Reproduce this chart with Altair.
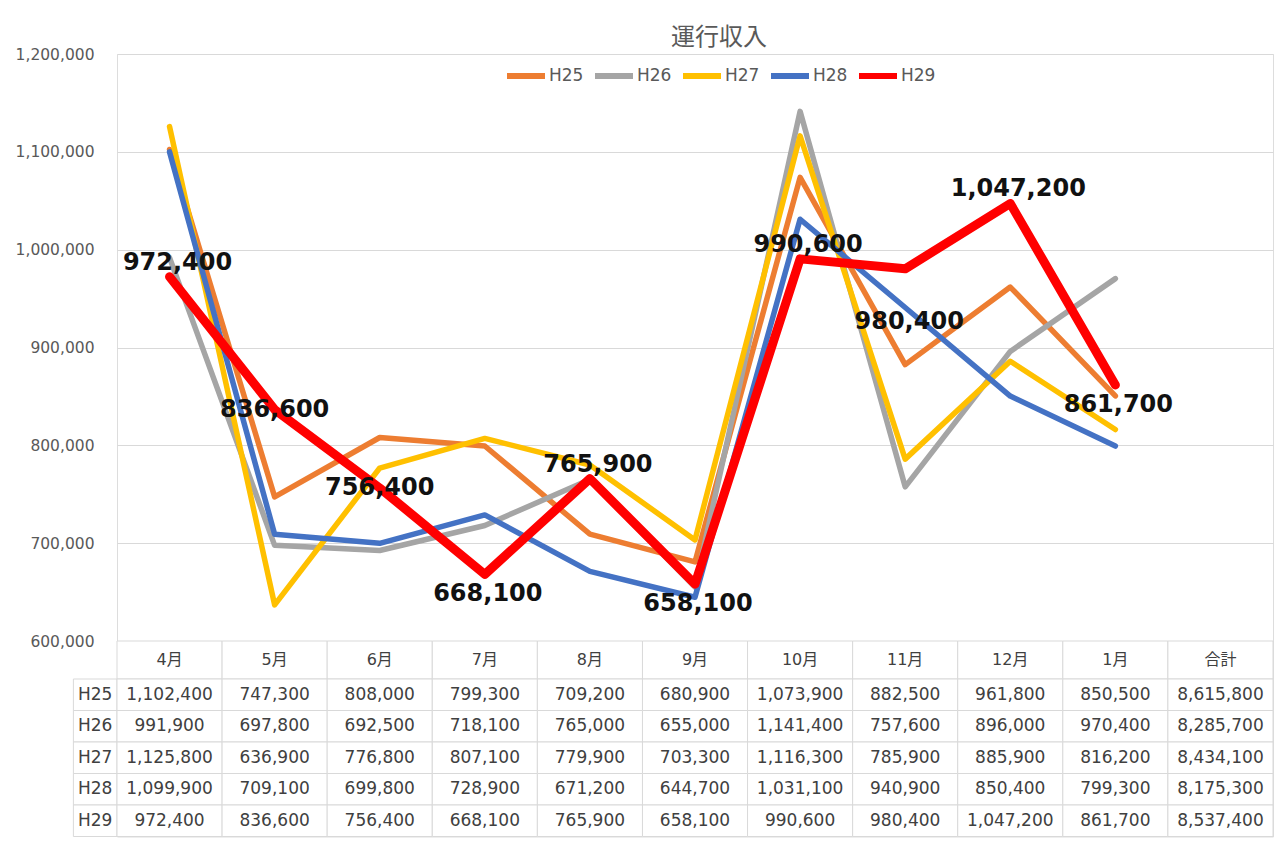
import altair as alt
import pandas as pd

# ---------------- data ----------------
TITLE = "運行収入"
MONTHS = ["4月", "5月", "6月", "7月", "8月", "9月", "10月", "11月", "12月", "1月"]
TOTAL_LABEL = "合計"
SERIES = ["H25", "H26", "H27", "H28", "H29"]
H25 = [1102400, 747300, 808000, 799300, 709200, 680900, 1073900, 882500, 961800, 850500]
H26 = [991900, 697800, 692500, 718100, 765000, 655000, 1141400, 757600, 896000, 970400]
H27 = [1125800, 636900, 776800, 807100, 779900, 703300, 1116300, 785900, 885900, 816200]
H28 = [1099900, 709100, 699800, 728900, 671200, 644700, 1031100, 940900, 850400, 799300]
H29 = [972400, 836600, 756400, 668100, 765900, 658100, 990600, 980400, 1047200, 861700]
TOTALS = [8615800, 8285700, 8434100, 8175300, 8537400]
Y_TICKS = [600000, 700000, 800000, 900000, 1000000, 1100000, 1200000]
HIGHLIGHT = "H29"

# ---------------- style ----------------
FONT = "DejaVu Sans, Noto Sans CJK JP"
COLORS = ["#ED7D31", "#A5A5A5", "#FFC000", "#4472C4", "#FF0000"]
GRID = "#D9D9D9"
TEXT = "#595959"
TABLE_TEXT = "#404040"
W = 1156
PLOT_H = 587
HEAD_H = 38
ROW_H = 31.5
LABEL_COL = 0.415  # width of the row-label column, in column units

LABEL_ABOVE = ["4月", "8月", "10月", "12月"]
LABEL_CENTER = ["5月", "6月"]
LABEL_BELOW = ["7月", "9月", "1月"]
LABEL_FAR_BELOW = ["11月"]

COLUMNS = MONTHS + [TOTAL_LABEL]
SERIES_VALUES = [H25, H26, H27, H28, H29]

# ---------------- tables ----------------
line_rows = []
for s, vals in zip(SERIES, SERIES_VALUES):
    for i, (m, v) in enumerate(zip(MONTHS, vals)):
        line_rows.append({"series": s, "month": m, "i": i, "value": v})
line_df = pd.DataFrame(line_rows)

head_df = pd.DataFrame({"col": COLUMNS, "c0": list(range(len(COLUMNS)))})

body_rows = []
for s, vals, tot in zip(SERIES, SERIES_VALUES, TOTALS):
    body_rows.append({"row": s, "c0": -LABEL_COL, "c1": 0, "text": s})
    for j, v in enumerate(vals + [tot]):
        body_rows.append({"row": s, "c0": j, "c1": j + 1, "text": f"{v:,}"})
body_df = pd.DataFrame(body_rows)

# ---------------- line chart ----------------
y_scale = alt.Scale(domain=[600000, 1200000], nice=False, zero=False)
x_enc = alt.X("month:N", scale=alt.Scale(domain=COLUMNS, type="point", padding=0.5), axis=None)
y_enc = alt.Y(
    "value:Q",
    scale=y_scale,
    axis=alt.Axis(values=Y_TICKS, format=",d", title=None, domain=False, ticks=False,
                  labelPadding=23, labelFontSize=15.5, labelColor=TEXT, labelFont=FONT,
                  gridColor=GRID, gridWidth=1),
)
legend = alt.Legend(orient="none", legendX=387, legendY=0, direction="horizontal", title=None,
                    symbolType="stroke", symbolSize=1444, symbolStrokeWidth=6,
                    labelFontSize=17, labelColor=TEXT, labelFont=FONT, labelOffset=1,
                    columnPadding=-1)
color_enc = alt.Color("series:N", scale=alt.Scale(domain=SERIES, range=COLORS), legend=legend)

base = alt.Chart(line_df)
lines_other = base.transform_filter(alt.datum.series != HIGHLIGHT).mark_line(
    strokeCap="round", strokeJoin="round", strokeWidth=5.5
).encode(x=x_enc, y=y_enc, color=color_enc, order=alt.Order("i:Q"))
lines_hl = base.transform_filter(alt.datum.series == HIGHLIGHT).mark_line(
    strokeCap="round", strokeJoin="round", strokeWidth=9
).encode(x=x_enc, y=alt.Y("value:Q", scale=y_scale), color=color_enc, order=alt.Order("i:Q"))


def labels(months, dy, dx=0):
    return base.transform_filter(alt.datum.series == HIGHLIGHT).transform_filter(
        alt.FieldOneOfPredicate(field="month", oneOf=months)
    ).mark_text(font=FONT, fontSize=24, fontWeight="bold", color="#111111", dy=dy, dx=dx).encode(
        x=x_enc,
        y=alt.Y("value:Q", scale=y_scale),
        text=alt.Text("value:Q", format=",d"),
    )


top = alt.layer(
    lines_other,
    lines_hl,
    labels(LABEL_ABOVE, -14, 8),
    labels(LABEL_CENTER, 0),
    labels(LABEL_BELOW, 20, 3),
    labels(LABEL_FAR_BELOW, 53, 4),
).properties(
    width=W,
    height=PLOT_H,
    title=alt.TitleParams(TITLE, fontSize=24, font=FONT, color=TEXT, fontWeight="normal",
                          anchor="middle", offset=-3, dx=24),
)

# ---------------- table ----------------
x_tab = alt.Scale(domain=[0, len(COLUMNS)], nice=False, zero=False)

head_base = alt.Chart(head_df).transform_calculate(c1="datum.c0 + 1", cm="datum.c0 + 0.5")
header = alt.layer(
    head_base.mark_rect(fill="white", stroke=GRID, strokeWidth=1).encode(
        x=alt.X("c0:Q", scale=x_tab, axis=None), x2="c1:Q"
    ),
    head_base.mark_text(font=FONT, fontSize=16, color=TABLE_TEXT).encode(
        x=alt.X("cm:Q", scale=x_tab, axis=None), text="col:N"
    ),
).properties(width=W, height=HEAD_H)

body_base = alt.Chart(body_df).transform_calculate(cm="(datum.c0 + datum.c1) / 2")
y_tab = alt.Y("row:N", sort=SERIES, scale=alt.Scale(paddingInner=0, paddingOuter=0), axis=None)
body = alt.layer(
    body_base.mark_rect(fill="white", stroke=GRID, strokeWidth=1).encode(
        x=alt.X("c0:Q", scale=x_tab, axis=None), x2="c1:Q", y=y_tab
    ),
    body_base.mark_text(font=FONT, fontSize=17, color=TABLE_TEXT).encode(
        x=alt.X("cm:Q", scale=x_tab, axis=None), y=y_tab, text="text:N"
    ),
).properties(width=W, height=ROW_H * len(SERIES))

chart = alt.vconcat(top, header, body, spacing=0, bounds="flush").properties(
    padding={"top": 17, "left": 6, "right": 0, "bottom": 0}
).configure_view(stroke=None, strokeWidth=0).configure(background="white")

chart.save("out.html", embed_options={"renderer": "svg", "actions": False})
